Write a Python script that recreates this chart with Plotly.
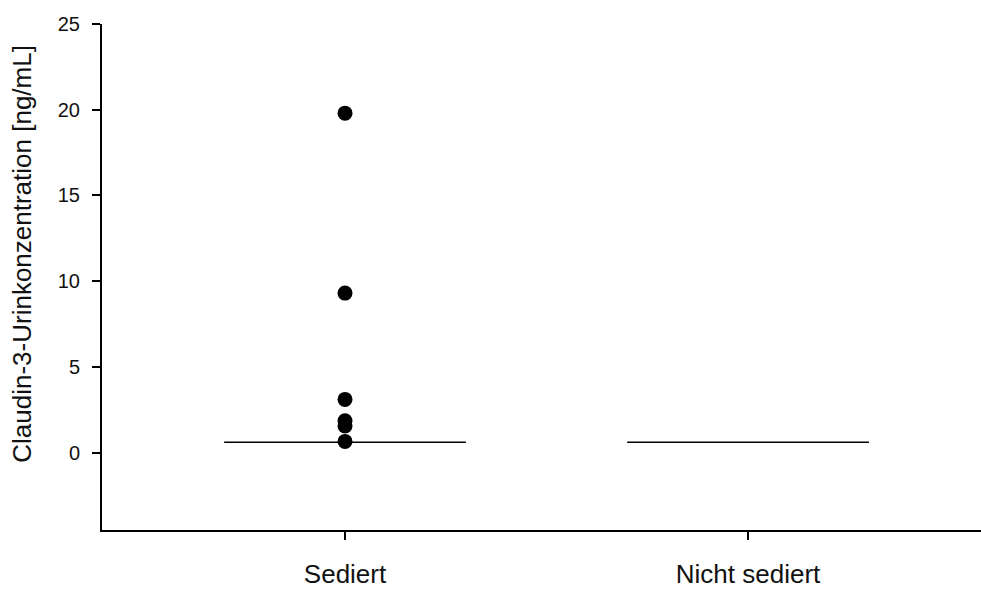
import plotly.graph_objects as go

categories = ["Sediert", "Nicht sediert"]
sediert_values = [19.8, 9.3, 3.1, 1.85, 1.55, 0.65]
nicht_sediert_values = []
medians = [0.6, 0.6]
y_ticks = [0, 5, 10, 15, 20, 25]
y_title = "Claudin-3-Urinkonzentration [ng/mL]"

fig = go.Figure()

half = 0.3
for i, m in enumerate(medians):
    fig.add_trace(go.Scatter(
        x=[i - half, i + half], y=[m, m], mode="lines",
        line=dict(color="black", width=1.6), showlegend=False, hoverinfo="skip"))

groups = [sediert_values, nicht_sediert_values]
for i, vals in enumerate(groups):
    if vals:
        fig.add_trace(go.Scatter(
            x=[i] * len(vals), y=vals, mode="markers",
            marker=dict(color="black", size=15, symbol="circle"),
            showlegend=False))

font = "Liberation Sans, Arial, sans-serif"
fig.update_layout(
    width=981, height=589,
    margin=dict(l=102, r=0, t=24, b=56),
    plot_bgcolor="white", paper_bgcolor="white",
    font=dict(family=font, color="black"),
    xaxis=dict(
        range=[-0.603, 1.578], tickvals=[0, 1], ticktext=categories,
        showgrid=False, zeroline=False, showline=True, linecolor="black", linewidth=2,
        ticks="outside", ticklen=8, tickwidth=1.5, tickcolor="black",
        ticklabelstandoff=12, tickfont=dict(size=26, family=font, color="#111")),
    yaxis=dict(
        range=[-4.52, 25], tickvals=y_ticks, ticktext=[str(t) for t in y_ticks],
        showgrid=False, zeroline=False, showline=True, linecolor="black", linewidth=2,
        ticks="outside", ticklen=8, tickwidth=1.5, tickcolor="black",
        ticklabelstandoff=8, tickfont=dict(size=20, family=font, color="#111")),
    annotations=[dict(
        text=y_title, textangle=-90, xref="paper", yref="paper",
        x=-0.091, y=0.546, xanchor="center", yanchor="middle", showarrow=False,
        font=dict(size=26, family=font, color="#111"))],
)

fig.write_html("out.html", config={"displayModeBar": False},
               post_script="document.body.style.margin='0';document.body.style.overflow='hidden';")
